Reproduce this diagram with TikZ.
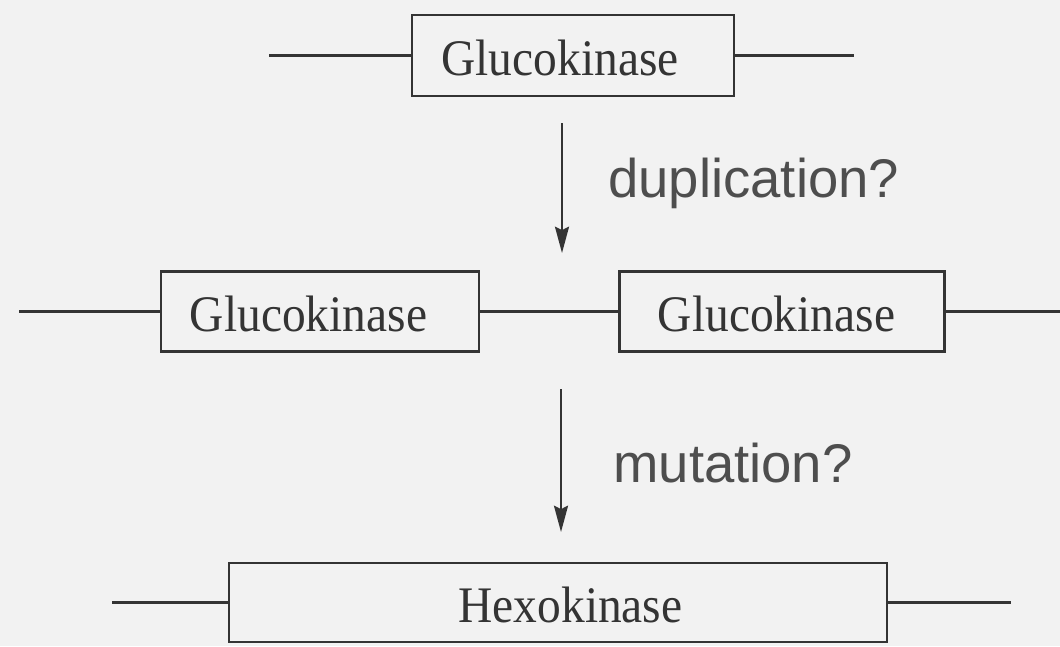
\documentclass[tikz,border=0pt]{standalone}
\usepackage{fontspec}
\usepackage{graphicx}
\setmainfont{Liberation Serif}
\setsansfont{Liberation Sans}
\usetikzlibrary{arrows.meta}
\definecolor{bg}{RGB}{242,242,242}
\definecolor{ink}{RGB}{52,52,52}
\definecolor{labink}{RGB}{78,78,78}
\newcommand{\genetext}[1]{\scalebox{1}[1.08]{#1}}
\begin{document}
\begin{tikzpicture}[x=0.02cm,y=-0.02cm,
  gene/.style={draw=ink, line width=1.4pt, inner sep=0pt, text=ink,
    text height=22.7pt, text depth=0pt,
    font=\fontsize{27}{30}\selectfont},
  dna/.style={draw=ink, line width=1.4pt},
  lab/.style={font=\sffamily\fontsize{31}{34}\selectfont, text=labink, anchor=base west, inner sep=0pt},
  arr/.style={draw=ink, line width=1.3pt, -{Stealth[length=15pt,width=8pt,inset=2pt]}}]
\fill[bg] (0,0) rectangle (1060,646);
\useasboundingbox (0,0) rectangle (1060,646);
% top gene
\node[gene, minimum width=6.44cm, minimum height=1.62cm] (top) at (573,55.5) {\genetext{Glucokinase}\kern0.52cm};
\coordinate (tl) at (269,55.5);
\coordinate (tr) at (854,55.5);
\draw[dna] (tl) -- (top.west);
\draw[dna] (top.east) -- (tr);
% arrow 1
\coordinate (a1s) at (562,123);
\coordinate (a1e) at (562,253);
\draw[arr] (a1s) -- (a1e);
\node[lab] (dup) at (608,197) {duplication?};
% duplicated genes
\node[gene, minimum width=6.36cm, minimum height=1.6cm] (ml) at (320,311.5) {\genetext{Glucokinase}\kern0.46cm};
\node[gene, minimum width=6.5cm, minimum height=1.6cm] (mr) at (782,311.5) {\genetext{Glucokinase}\kern0.22cm};
\coordinate (ml0) at (19,311.5);
\coordinate (mr0) at (1060,311.5);
\draw[dna] (ml0) -- (ml.west);
\draw[dna] (ml.east) -- (mr.west);
\draw[dna] (mr.east) -- (mr0);
% arrow 2
\coordinate (a2s) at (561,389);
\coordinate (a2e) at (561,532);
\draw[arr] (a2s) -- (a2e);
\node[lab] (mut) at (613,482) {mutation?};
% hexokinase
\node[gene, minimum width=13.16cm, minimum height=1.58cm] (hex) at (558,602.5) {\kern0.5cm\genetext{Hexokinase}};
\coordinate (bl) at (112,602.5);
\coordinate (br) at (1011,602.5);
\draw[dna] (bl) -- (hex.west);
\draw[dna] (hex.east) -- (br);
\end{tikzpicture}
\end{document}
